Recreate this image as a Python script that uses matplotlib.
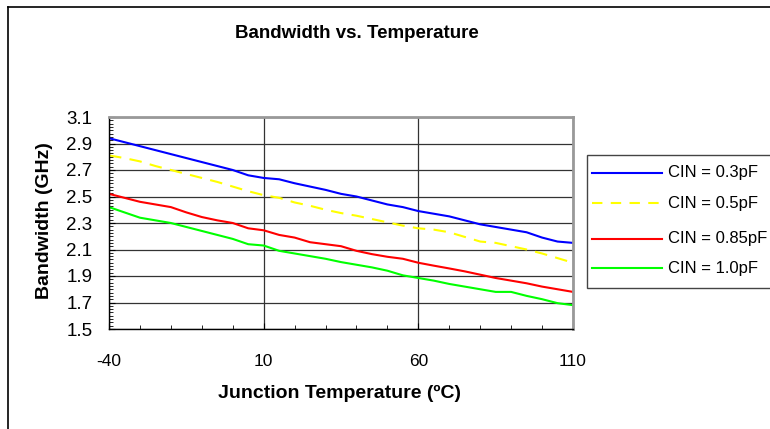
import matplotlib
matplotlib.use("Agg")
import matplotlib.pyplot as plt
from matplotlib.ticker import MultipleLocator
from matplotlib.lines import Line2D
from matplotlib.patches import Rectangle

plt.rcParams['font.family'] = ['Liberation Sans', 'DejaVu Sans']
plt.rcParams['axes.unicode_minus'] = False

temperature = [-40, -35, -30, -25, -20, -15, -10, -5, 0, 5, 10, 15, 20, 25, 30, 35,
               40, 45, 50, 55, 60, 65, 70, 75, 80, 85, 90, 95, 100, 105, 110]
cin_03 = [2.94, 2.91, 2.88, 2.85, 2.82, 2.79, 2.76, 2.73, 2.70, 2.66, 2.64, 2.63,
          2.60, 2.575, 2.55, 2.52, 2.50, 2.47, 2.44, 2.42, 2.39, 2.37, 2.35, 2.32,
          2.29, 2.27, 2.25, 2.23, 2.19, 2.16, 2.15]
cin_05 = [2.81, 2.79, 2.765, 2.73, 2.70, 2.67, 2.64, 2.61, 2.575, 2.54, 2.51, 2.49,
          2.455, 2.43, 2.40, 2.375, 2.355, 2.33, 2.305, 2.28, 2.26, 2.25, 2.23,
          2.195, 2.16, 2.15, 2.125, 2.10, 2.07, 2.035, 2.00]
cin_085 = [2.52, 2.49, 2.46, 2.44, 2.42, 2.38, 2.345, 2.32, 2.30, 2.26, 2.245, 2.21,
           2.19, 2.155, 2.14, 2.125, 2.09, 2.065, 2.045, 2.03, 2.00, 1.978, 1.957,
           1.935, 1.91, 1.885, 1.865, 1.845, 1.82, 1.80, 1.78]
cin_10 = [2.42, 2.38, 2.34, 2.32, 2.30, 2.27, 2.24, 2.21, 2.18, 2.14, 2.13, 2.09,
          2.07, 2.05, 2.03, 2.005, 1.985, 1.965, 1.94, 1.905, 1.885, 1.865, 1.84,
          1.82, 1.80, 1.78, 1.78, 1.75, 1.725, 1.695, 1.68]

series = [cin_03, cin_05, cin_085, cin_10]
labels = ["CIN = 0.3pF", "CIN = 0.5pF", "CIN = 0.85pF", "CIN = 1.0pF"]
colors = ["#0000FF", "#FFFF00", "#FF0000", "#00FF00"]
styles = ["-", (0, (6, 4)), "-", "-"]

title = "Bandwidth vs. Temperature"
xlabel = "Junction Temperature (ºC)"
ylabel = "Bandwidth (GHz)"
xticks = [-40, 10, 60, 110]
yticks = [1.5, 1.7, 1.9, 2.1, 2.3, 2.5, 2.7, 2.9, 3.1]

W, H = 770, 429
fig = plt.figure(figsize=(W / 100, H / 100), dpi=100)

# outer chart border (top and left visible)
fig.add_artist(Line2D([8 / W, 8 / W], [0, 1 - 7 / H], color="black", lw=1.2,
                      transform=fig.transFigure))
fig.add_artist(Line2D([8 / W, 1], [1 - 7 / H, 1 - 7 / H], color="black", lw=1.2,
                      transform=fig.transFigure))

left, right, top, bottom = 109, 573, 117, 329
ax = fig.add_axes([left / W, 1 - bottom / H, (right - left) / W, (bottom - top) / H])

for vals, c, ls in zip(series, colors, styles):
    ax.plot(temperature, vals, color=c, lw=1.5, linestyle=ls)

ax.set_xlim(-40, 110)
ax.set_ylim(1.5, 3.1)
ax.set_xticks(xticks)
ax.set_yticks(yticks)
ax.set_yticklabels([f"{v:.1f}" for v in yticks])
ax.xaxis.set_minor_locator(MultipleLocator(10))
ax.yaxis.set_minor_locator(MultipleLocator(0.025))
ax.tick_params(axis='both', which='major', direction='in', length=4, labelsize=12.5,
               color='black')
ax.tick_params(axis='y', which='major', labelsize=13.5)
ax.tick_params(axis='x', which='major', pad=18)
ax.tick_params(axis='y', which='major', pad=12)
ax.tick_params(axis='both', which='minor', direction='in', length=3, color='black')
ax.grid(True, which='major', color='#333333', lw=0.9)
ax.set_axisbelow(True)

for s in ['top', 'right']:
    ax.spines[s].set_color('#999999')
    ax.spines[s].set_linewidth(2)
for s in ['left', 'bottom']:
    ax.spines[s].set_color('black')
    ax.spines[s].set_linewidth(1)

fig.text(357 / W, 1 - 34 / H, title, ha='center', va='center', fontsize=13.5,
         fontweight='bold')
fig.text(340 / W, 1 - 393 / H, xlabel, ha='center', va='center', fontsize=14,
         fontweight='bold')
fig.text(45 / W, 1 - 221 / H, ylabel, ha='center', va='center', fontsize=14,
         fontweight='bold', rotation=90)

# legend box
fig.add_artist(Rectangle((587 / W, 1 - 288 / H), (W + 10 - 587) / W, (288 - 155) / H,
                         transform=fig.transFigure, facecolor='white',
                         edgecolor='#444444', lw=1.0, clip_on=False))
rows = [173, 203, 239, 268]
for lab, c, ls, ry in zip(labels, colors, styles, rows):
    fig.add_artist(Line2D([592 / W, 662 / W], [1 - ry / H, 1 - ry / H], color=c,
                          lw=1.5, linestyle=ls if ls == '-' else (0, (5, 4)),
                          transform=fig.transFigure))
    fig.text(668 / W, 1 - ry / H, lab, ha='left', va='center', fontsize=12)

fig.savefig("out.png", dpi=100)
